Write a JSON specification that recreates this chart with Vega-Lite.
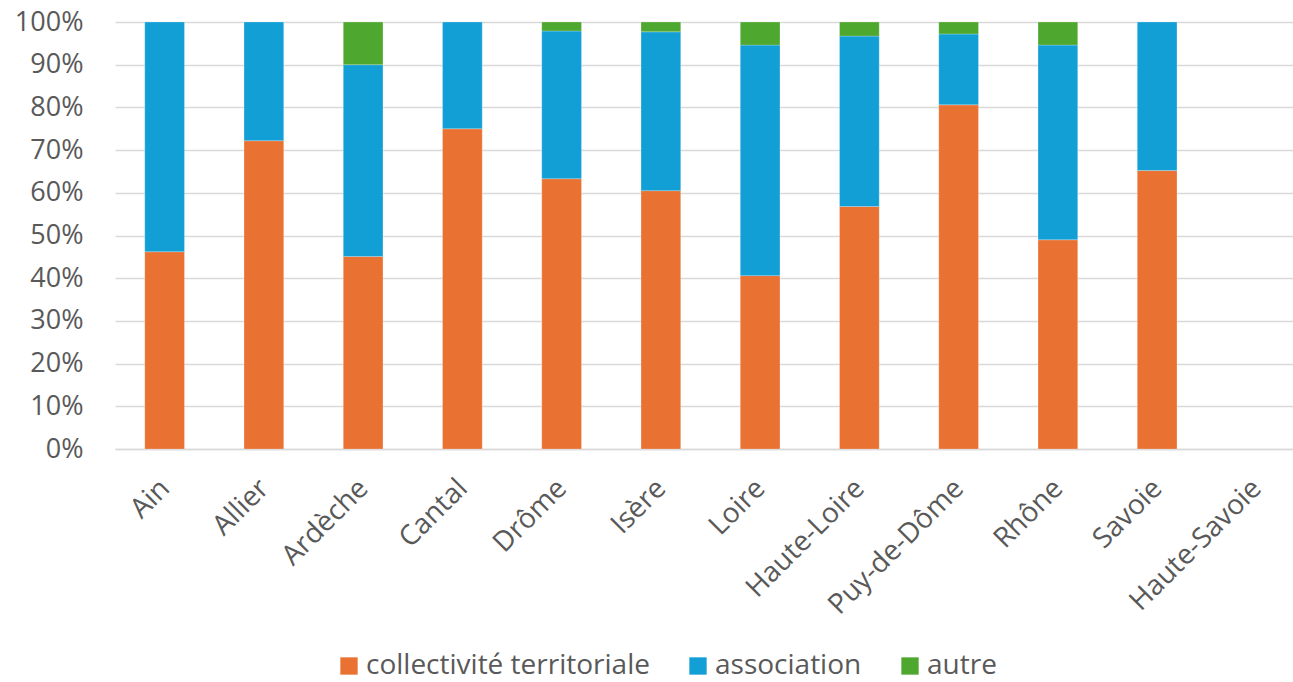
{
  "$schema": "https://vega.github.io/schema/vega-lite/v6.json",
  "width": 1191,
  "height": 427,
  "autosize": {"type": "none"},
  "padding": {"left": 115, "top": 22, "right": 0, "bottom": 233},
  "background": "white",
  "data": {
    "values": [
      {"dept": "Ain", "type": "collectivité territoriale", "ord": 1, "v": 0.462},
      {"dept": "Ain", "type": "association", "ord": 2, "v": 0.538},
      {"dept": "Allier", "type": "collectivité territoriale", "ord": 1, "v": 0.722},
      {"dept": "Allier", "type": "association", "ord": 2, "v": 0.278},
      {"dept": "Ardèche", "type": "collectivité territoriale", "ord": 1, "v": 0.451},
      {"dept": "Ardèche", "type": "association", "ord": 2, "v": 0.449},
      {"dept": "Ardèche", "type": "autre", "ord": 3, "v": 0.100},
      {"dept": "Cantal", "type": "collectivité territoriale", "ord": 1, "v": 0.750},
      {"dept": "Cantal", "type": "association", "ord": 2, "v": 0.250},
      {"dept": "Drôme", "type": "collectivité territoriale", "ord": 1, "v": 0.633},
      {"dept": "Drôme", "type": "association", "ord": 2, "v": 0.346},
      {"dept": "Drôme", "type": "autre", "ord": 3, "v": 0.021},
      {"dept": "Isère", "type": "collectivité territoriale", "ord": 1, "v": 0.605},
      {"dept": "Isère", "type": "association", "ord": 2, "v": 0.372},
      {"dept": "Isère", "type": "autre", "ord": 3, "v": 0.023},
      {"dept": "Loire", "type": "collectivité territoriale", "ord": 1, "v": 0.406},
      {"dept": "Loire", "type": "association", "ord": 2, "v": 0.540},
      {"dept": "Loire", "type": "autre", "ord": 3, "v": 0.054},
      {"dept": "Haute-Loire", "type": "collectivité territoriale", "ord": 1, "v": 0.568},
      {"dept": "Haute-Loire", "type": "association", "ord": 2, "v": 0.399},
      {"dept": "Haute-Loire", "type": "autre", "ord": 3, "v": 0.033},
      {"dept": "Puy-de-Dôme", "type": "collectivité territoriale", "ord": 1, "v": 0.806},
      {"dept": "Puy-de-Dôme", "type": "association", "ord": 2, "v": 0.166},
      {"dept": "Puy-de-Dôme", "type": "autre", "ord": 3, "v": 0.028},
      {"dept": "Rhône", "type": "collectivité territoriale", "ord": 1, "v": 0.490},
      {"dept": "Rhône", "type": "association", "ord": 2, "v": 0.456},
      {"dept": "Rhône", "type": "autre", "ord": 3, "v": 0.054},
      {"dept": "Savoie", "type": "collectivité territoriale", "ord": 1, "v": 0.652},
      {"dept": "Savoie", "type": "association", "ord": 2, "v": 0.348}
    ]
  },
  "mark": {"type": "bar", "stroke": "white", "strokeWidth": 0.6, "strokeOpacity": 0.4},
  "encoding": {
    "x": {
      "field": "dept",
      "type": "nominal",
      "sort": null,
      "scale": {
        "domain": ["Ain", "Allier", "Ardèche", "Cantal", "Drôme", "Isère", "Loire", "Haute-Loire", "Puy-de-Dôme", "Rhône", "Savoie", "Haute-Savoie"],
        "paddingInner": 0.6,
        "paddingOuter": 0.3
      },
      "axis": {
        "title": null,
        "labelAngle": -45,
        "labelAlign": "right",
        "labelBaseline": "top",
        "labelFont": "Open Sans",
        "labelFontSize": 28,
        "labelColor": "#595959",
        "labelPadding": 25,
        "labelOffset": -9,
        "labelDx": -8,
        "labelLimit": 0,
        "ticks": false,
        "domain": true,
        "domainColor": "#d9d9d9",
        "domainWidth": 1.3,
        "grid": false
      }
    },
    "y": {
      "field": "v",
      "type": "quantitative",
      "stack": "zero",
      "scale": {"domain": [0, 1], "nice": false},
      "axis": {
        "title": null,
        "values": [0, 0.1, 0.2, 0.3, 0.4, 0.5, 0.6, 0.7, 0.8, 0.9, 1],
        "format": ".0%",
        "labelFont": "Open Sans",
        "labelFontSize": 27,
        "labelColor": "#595959",
        "labelPadding": 32,
        "ticks": false,
        "domain": false,
        "grid": true,
        "gridColor": "#d9d9d9",
        "gridWidth": 1.3
      }
    },
    "color": {
      "field": "type",
      "type": "nominal",
      "scale": {
        "domain": ["collectivité territoriale", "association", "autre"],
        "range": ["#E97132", "#119FD6", "#4EA72E"]
      },
      "legend": {
        "title": null,
        "orient": "none",
        "direction": "horizontal",
        "legendX": 220,
        "legendY": 630,
        "symbolType": "square",
        "symbolSize": 300,
        "symbolStrokeWidth": 0,
        "labelFont": "Open Sans",
        "labelFontSize": 28,
        "labelColor": "#595959",
        "labelOffset": 3,
        "labelLimit": 0,
        "columnPadding": 34
      }
    },
    "order": {"field": "ord", "type": "quantitative"}
  },
  "config": {"view": {"stroke": null}}
}
